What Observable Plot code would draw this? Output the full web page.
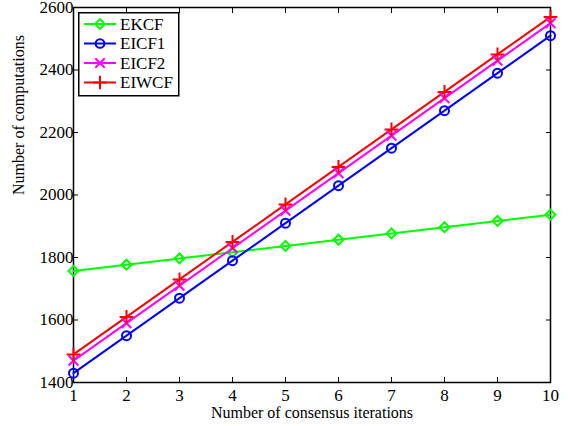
<!DOCTYPE html>
<html><head><meta charset="utf-8">
<script src="https://cdn.jsdelivr.net/npm/d3@7"></script>
<script src="https://cdn.jsdelivr.net/npm/@observablehq/plot@0.6"></script>
<style>
body{margin:0;background:#fff;font-family:"Liberation Serif",serif;}
#wrap{position:relative;width:571px;height:426px;}
#wrap svg text{font-family:"Liberation Serif","Times New Roman",serif !important;}
#legend{position:absolute;left:78px;top:12px;}
</style>
</head><body>
<div id="wrap"></div>
<script>
const iterations = [1,2,3,4,5,6,7,8,9,10];
const seriesNames = ["EKCF","EICF1","EICF2","EIWCF"];
const EKCF  = [1757,1777,1797,1817,1837,1857,1877,1897,1917,1937];
const EICF1 = [1430,1550,1670,1790,1910,2030,2150,2270,2390,2510];
const EICF2 = [1470,1590,1710,1830,1950,2070,2190,2310,2430,2550];
const EIWCF = [1490,1610,1730,1850,1970,2090,2210,2330,2450,2570];
const colors = ["#00ff00","#0000ff","#ff00ff","#ff0000"];
const symbols = ["diamond2","circle","times","plus"];
const yTicks = [1400,1600,1800,2000,2200,2400,2600];

const valuesBy = {EKCF, EICF1, EICF2, EIWCF};
const data = seriesNames.flatMap(s => iterations.map((x,i)=>({series:s, x, y:valuesBy[s][i]})));

const font = "'Liberation Serif', 'Times New Roman', serif";
const chart = Plot.plot({
  width:571, height:426,
  marginLeft:73, marginRight:21, marginTop:7, marginBottom:44,
  style:{fontFamily:font, fontSize:"17px", color:"#000", background:"#fff"},
  x:{domain:[1,10], ticks:iterations, label:null},
  y:{domain:[1400,2600], ticks:yTicks, label:null},
  color:{domain:seriesNames, range:colors},
  symbol:{domain:seriesNames, range:symbols},
  marks:[
    Plot.frame({stroke:"#000", strokeWidth:1.5}),
    Plot.axisX({anchor:"bottom", ticks:iterations, tickSize:-5, tickPadding:11, tickFormat:d=>String(d), fontSize:17, fontFamily:font}),
    Plot.axisX({anchor:"top", ticks:iterations, tickSize:-5, tickFormat:()=>""}),
    Plot.axisY({anchor:"left", ticks:yTicks, tickSize:-5, tickPadding:5, tickFormat:d=>String(d), fontSize:17, fontFamily:font}),
    Plot.axisY({anchor:"right", ticks:yTicks, tickSize:-5, tickFormat:()=>""}),
    Plot.line(data, {x:"x", y:"y", z:"series", stroke:"series", strokeWidth:2}),
    Plot.dot(data, {x:"x", y:"y", stroke:"series", symbol:"series", r:4.5, strokeWidth:2}),
    Plot.text(["Number of consensus iterations"], {frameAnchor:"bottom", lineAnchor:"middle", dy:30, fontSize:16, fontFamily:font}),
    Plot.text(["Number of computations"], {frameAnchor:"left", dx:-55, rotate:-90, fontSize:16, fontFamily:font})
  ]
});
document.getElementById("wrap").appendChild(chart);

// legend
const lg = d3.select("#wrap").append("svg").attr("id","legend").attr("width",102).attr("height",86);
lg.append("rect").attr("x",0.75).attr("y",0.75).attr("width",100).attr("height",83).attr("fill","#fff").attr("stroke","#000").attr("stroke-width",1.5);
seriesNames.forEach((s,i)=>{
  const cy = 12 + i*19.5;
  const g = lg.append("g").attr("transform",`translate(0,${cy})`);
  g.append("line").attr("x1",6).attr("x2",38).attr("y1",0).attr("y2",0).attr("stroke",colors[i]).attr("stroke-width",2);
  const symObj = {diamond2:d3.symbolDiamond2, circle:d3.symbolCircle, times:d3.symbolTimes, plus:d3.symbolPlus}[symbols[i]];
  g.append("path").attr("transform","translate(22,0)").attr("d", d3.symbol(symObj, 60)()).attr("fill","none").attr("stroke",colors[i]).attr("stroke-width",2);
  g.append("text").attr("x",42).attr("y",0).attr("dy","0.35em").attr("font-size",17).text(s);
});
</script>
</body></html>
